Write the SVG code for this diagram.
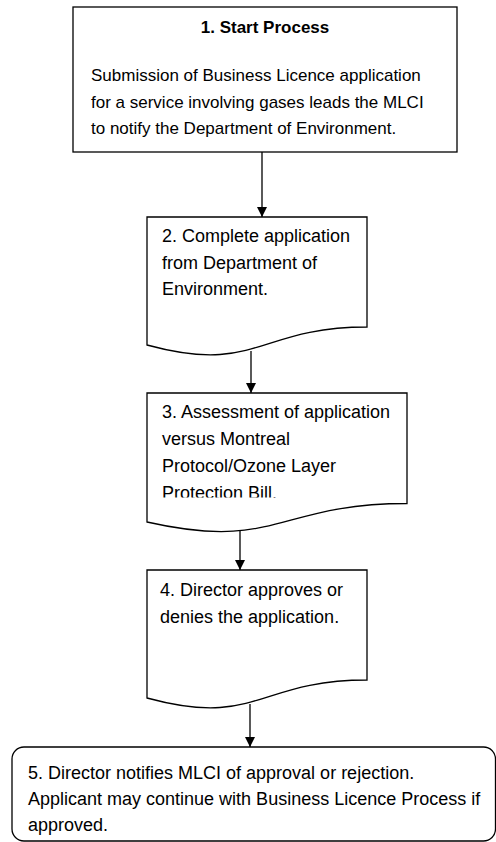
<svg xmlns="http://www.w3.org/2000/svg" width="496" height="842" viewBox="0 0 496 842">
<style>
.shape{fill:#fff;stroke:#000;stroke-width:1.3}
.t{font-family:"Liberation Sans",Arial,sans-serif;font-size:18px;fill:#000}
.s{font-size:17px}
.b{font-weight:bold}
.conn{stroke:#000;stroke-width:1.3;fill:none}
</style>
<defs>
<marker id="ah" markerUnits="userSpaceOnUse" markerWidth="10" markerHeight="10" refX="10" refY="5" orient="auto">
<path d="M0,0 L10,5 L0,10 z" fill="#000"/>
</marker>
<clipPath id="c3"><rect x="147" y="393" width="260" height="104.5"/></clipPath>
</defs>
<rect width="496" height="842" fill="#fff"/>
<g id="connectors">
<line class="conn" x1="262" y1="152" x2="262" y2="217" marker-end="url(#ah)"/>
<line class="conn" x1="251" y1="351" x2="251" y2="393" marker-end="url(#ah)"/>
<line class="conn" x1="240" y1="530" x2="240" y2="570" marker-end="url(#ah)"/>
<line class="conn" x1="250" y1="704" x2="250" y2="747" marker-end="url(#ah)"/>
</g>
<g id="node1">
<rect class="shape" x="73" y="7" width="384" height="145"/>
<text class="t s b" x="265" y="33" text-anchor="middle">1. Start Process</text>
<text class="t s" x="91" y="81">Submission of Business Licence application</text>
<text class="t s" x="91" y="107.5">for a service involving gases leads the MLCI</text>
<text class="t s" x="91" y="134">to notify the Department of Environment.</text>
</g>
<g id="node2">
<path class="shape" d="M147,217 H367 V327 C257,327 257,375 147,345 Z"/>
<text class="t" x="162" y="242">2. Complete application</text>
<text class="t" x="162" y="268.5">from Department of</text>
<text class="t" x="162" y="295">Environment.</text>
</g>
<g id="node3">
<path class="shape" d="M147,393 H407 V503.5 C277,503.5 277,551.5 147,522 Z"/>
<g clip-path="url(#c3)">
<text class="t" x="162" y="418">3. Assessment of application</text>
<text class="t" x="162" y="445">versus Montreal</text>
<text class="t" x="162" y="472">Protocol/Ozone Layer</text>
<text class="t" x="162" y="499">Protection Bill.</text>
</g>
</g>
<g id="node4">
<path class="shape" d="M147,570 H367 V680 C257,680 257,728 147,698 Z"/>
<text class="t" x="160" y="596">4. Director approves or</text>
<text class="t" x="160" y="622.5">denies the application.</text>
</g>
<g id="node5">
<rect class="shape" x="12" y="747" width="483.5" height="94" rx="12"/>
<text class="t" x="28" y="779">5. Director notifies MLCI of approval or rejection.</text>
<text class="t" x="28" y="805">Applicant may continue with Business Licence Process if</text>
<text class="t" x="28" y="831">approved.</text>
</g>
</svg>
